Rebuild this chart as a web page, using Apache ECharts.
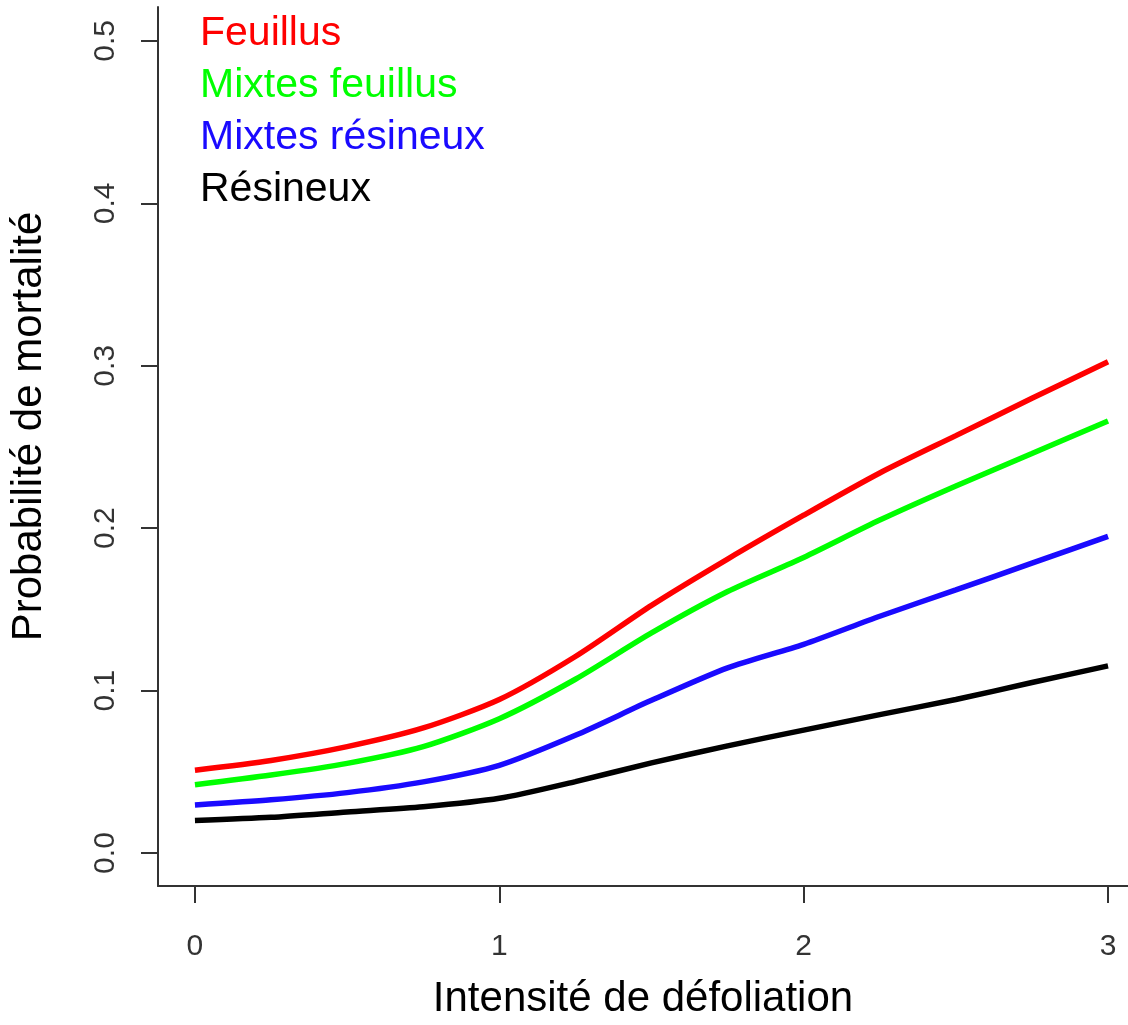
<!DOCTYPE html>
<html><head><meta charset="utf-8">
<script src="https://cdn.jsdelivr.net/npm/echarts@6/dist/echarts.min.js"></script>
<style>html,body{margin:0;padding:0;background:#fff}#c{width:1128px;height:1025px}</style>
</head><body><div id="c"></div>
<script>
const xValues = [0, 0.25, 0.5, 0.75, 1, 1.25, 1.5, 1.75, 2, 2.25, 2.5, 2.75, 3];
const feuillus = [0.051, 0.057, 0.0655, 0.077, 0.0945, 0.121, 0.1525, 0.181, 0.208, 0.234, 0.257, 0.280, 0.3025];
const mixtesFeuillus = [0.042, 0.048, 0.0552, 0.0655, 0.0827, 0.107, 0.1355, 0.161, 0.182, 0.205, 0.226, 0.246, 0.266];
const mixtesResineux = [0.0296, 0.0328, 0.0372, 0.0438, 0.054, 0.0725, 0.094, 0.114, 0.1285, 0.1458, 0.162, 0.1785, 0.195];
const resineux = [0.020, 0.022, 0.0253, 0.0285, 0.0337, 0.044, 0.0555, 0.066, 0.0757, 0.0852, 0.0945, 0.105, 0.1152];
const seriesNames = ['Feuillus', 'Mixtes feuillus', 'Mixtes résineux', 'Résineux'];
const xTicks = [0, 1, 2, 3];
const yTicks = [0, 0.1, 0.2, 0.3, 0.4, 0.5];

const colors = ['#ff0000', '#00ff00', '#1a0aff', '#000000'];
const allData = [feuillus, mixtesFeuillus, mixtesResineux, resineux];
const font = '"Liberation Sans", Arial, sans-serif';

const chart = echarts.init(document.getElementById('c'));
chart.setOption({
  animation: false,
  backgroundColor: '#fff',
  grid: { left: 157, right: 0, top: 7, bottom: 139, containLabel: false },
  legend: {
    orient: 'vertical', left: 190, top: 8, itemWidth: 0, itemHeight: 0, itemGap: 11,
    icon: 'none', selectedMode: false,
    textStyle: { fontSize: 41, lineHeight: 41, fontFamily: font },
    data: seriesNames.map((n, i) => ({ name: n, textStyle: { color: colors[i] } }))
  },
  xAxis: {
    type: 'value', min: -0.1214, max: 3.0656,
    name: 'Intensité de défoliation', nameLocation: 'middle', nameGap: 92,
    nameTextStyle: { fontSize: 42, fontFamily: font, color: '#000' },
    axisLine: { onZero: false, lineStyle: { color: '#333', width: 2 } },
    axisTick: { customValues: xTicks, length: 17, lineStyle: { color: '#333', width: 2 } },
    axisLabel: { customValues: xTicks, margin: 46, fontSize: 30, color: '#333', fontFamily: font },
    splitLine: { show: false }
  },
  yAxis: {
    type: 'value', min: -0.0203, max: 0.5209,
    name: 'Probabilité de mortalité', nameLocation: 'middle', nameGap: 108, nameRotate: 90,
    nameTextStyle: { fontSize: 42, fontFamily: font, color: '#000', padding: [0, 0, 0, 40] },
    axisLine: { onZero: false, lineStyle: { color: '#333', width: 2 } },
    axisTick: { customValues: yTicks, length: 17, lineStyle: { color: '#333', width: 2 } },
    axisLabel: { customValues: yTicks, rotate: 90, margin: 37, fontSize: 30, color: '#333', fontFamily: font,
      formatter: v => v.toFixed(1) },
    splitLine: { show: false }
  },
  series: seriesNames.map((n, i) => ({
    name: n, type: 'line', smooth: 0.25, showSymbol: false,
    lineStyle: { color: colors[i], width: 5.5 }, itemStyle: { color: colors[i] },
    data: xValues.map((x, j) => [x, allData[i][j]])
  }))
});
</script></body></html>
